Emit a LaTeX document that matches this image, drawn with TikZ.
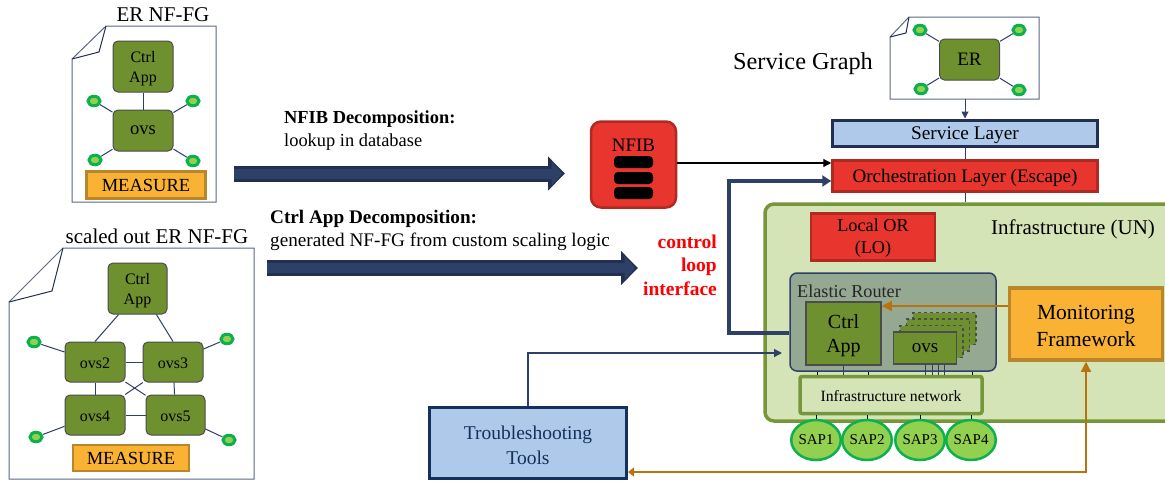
\documentclass[tikz,border=0pt]{standalone}
\usepackage{fontspec}
\setmainfont{Liberation Serif}
\usetikzlibrary{arrows.meta,shapes.geometric}

\definecolor{vnfgreen}{HTML}{6F902F}
\definecolor{navy}{HTML}{2F4068}
\definecolor{darknavy}{HTML}{222F50}
\definecolor{toolnavy}{HTML}{15305A}
\definecolor{lightblue}{HTML}{AFC9EA}
\definecolor{redfill}{HTML}{E8352D}
\definecolor{redline}{HTML}{AE2A22}
\definecolor{orangefill}{HTML}{F9B233}
\definecolor{orangeline}{HTML}{B8862B}
\definecolor{brownline}{HTML}{B8730F}
\definecolor{infragreen}{HTML}{D5E4B6}
\definecolor{infraline}{HTML}{76963A}
\definecolor{sapfill}{HTML}{92D050}
\definecolor{sapline}{HTML}{0CB04F}
\definecolor{docline}{HTML}{5C6785}
\definecolor{routerfill}{HTML}{94A892}

\newcommand{\sizedfont}[1]{\pgfmathsetmacro{\lineskp}{#1*1.22}\fontsize{#1}{\lineskp}\selectfont}

\tikzset{
	fsize/.style={font=\sizedfont{#1}},
	box/.style={inner sep=0pt, align=center},
	tagtext/.style={inner sep=0pt, align=center},
	vnf/.style={box, draw=black!70, fill=vnfgreen, line width=1pt, rounded corners=5pt, fsize=16},
	dot/.style={ellipse, draw=sapline, fill=sapfill, line width=3pt, minimum width=12pt, minimum height=9.5pt, inner sep=0pt},
	measure/.style={box, draw=orangeline, fill=orangefill, line width=2.5pt, fsize=18.5},
	doc/.style={draw=docline, fill=white, line width=1pt},
	fold/.style={draw=darknavy, line width=1pt},
	link/.style={draw=navy, line width=1pt},
	bigarrow/.style={draw=darknavy, line width=16pt, -{Triangle[length=17pt,width=33pt]}},
	biginner/.style={draw=navy, line width=10pt, shorten >=2.5pt, -{Triangle[length=11pt,width=23pt]}},
	redbox/.style={box, draw=redline, fill=redfill, line width=2.5pt},
	label/.style={inner sep=0pt, anchor=west},
	sap/.style={ellipse, draw=sapline, fill=sapfill, line width=2.5pt, minimum width=44pt, minimum height=40pt, inner sep=0pt, fsize=15},
	disk/.style={fill=black, rounded corners=4pt, minimum width=39pt, minimum height=12pt, inner sep=0pt}
}

\begin{document}
\begin{tikzpicture}[x=1pt,y=-1pt]
	\clip (0,0) rectangle (1165,483);

	\node[tagtext, fsize=21] (ertitle) at (163,15) {ER NF-FG};
	\draw[doc] (72,59) -- (106,26) -- (216,26) -- (216,202) -- (72,202) -- cycle;
	\draw[fold] (72,59) -- (99,52) -- (106,26);
	\node[vnf, minimum width=60pt, minimum height=51pt] (erctrl) at (143,66.5) {};
	\node[tagtext, font=\fontsize{16}{20}\selectfont] (erctrlname) at (143,68.5) {Ctrl\\App};
	\node[vnf, minimum width=60pt, minimum height=41pt, fsize=18.5] (erovs) at (143,130.5) {ovs};
	\node[dot] (erd1) at (94,101) {};
	\node[dot] (erd2) at (193,101) {};
	\node[dot] (erd3) at (95,160) {};
	\node[dot] (erd4) at (193,161) {};
	\node[measure, minimum width=119pt, minimum height=27pt] (ermeas) at (146,185) {MEASURE};
	\draw[link] (erctrl) -- (erovs);
	\foreach \dname in {erd1,erd2,erd3,erd4}
		\draw[link] (\dname) -- (erovs);

	\node[tagtext, fsize=21] (sctitle) at (157,236) {scaled out ER NF-FG};
	\draw[doc] (9,302) -- (63,248) -- (254,248) -- (254,479) -- (9,479) -- cycle;
	\draw[fold] (9,302) -- (52,291) -- (63,248);
	\node[vnf, minimum width=59pt, minimum height=51pt] (scctrl) at (137.5,288.5) {};
	\node[tagtext, font=\fontsize{16}{20}\selectfont] (scctrlname) at (137.5,290.5) {Ctrl\\App};
	\node[vnf, minimum width=60pt, minimum height=40pt] (ovs2) at (95,362) {};
	\node[vnf, minimum width=60pt, minimum height=40pt] (ovs3) at (173,362) {};
	\node[vnf, minimum width=60pt, minimum height=40pt] (ovs4) at (95,415) {};
	\node[vnf, minimum width=59pt, minimum height=40pt] (ovs5) at (175.5,415) {};
	\node[tagtext, fsize=16] at (95,363) {ovs2};
	\node[tagtext, fsize=16] at (173,363) {ovs3};
	\node[tagtext, fsize=16] at (95,416) {ovs4};
	\node[tagtext, fsize=16] at (175.5,416) {ovs5};
	\node[dot] (scd1) at (34,342) {};
	\node[dot] (scd2) at (227,339) {};
	\node[dot] (scd3) at (36,437) {};
	\node[dot] (scd4) at (229,440) {};
	\node[measure, minimum width=116pt, minimum height=26pt] (scmeas) at (131,458) {MEASURE};
	\draw[link] (scctrl.-126) -- (ovs2.north);
	\draw[link] (scctrl.-54) -- (ovs3.north);
	\draw[link] (ovs2) -- (ovs3);
	\draw[link] (ovs4) -- (ovs5);
	\draw[link] (ovs2) -- (ovs4);
	\draw[link] (ovs3) -- (ovs5);
	\draw[link] (ovs2) -- (ovs5);
	\draw[link] (ovs3) -- (ovs4);
	\draw[link] (scd1) -- (ovs2);
	\draw[link] (scd2) -- (ovs3);
	\draw[link] (scd3) -- (ovs4);
	\draw[link] (scd4) -- (ovs5);

	\coordinate (a1s) at (234,173.5);
	\coordinate (a1e) at (565,173.5);
	\coordinate (a2s) at (267,268);
	\coordinate (a2e) at (638,268);
	\draw[bigarrow] (a1s) -- (a1e);
	\draw[biginner] (a1s) -- (a1e);
	\draw[bigarrow] (a2s) -- (a2e);
	\draw[biginner] (a2s) -- (a2e);

	\node[label, fsize=18.4] (nfibhead) at (284,119.5) {\textbf{NFIB Decomposition:}};
	\node[label, fsize=18.4] (nfibtext) at (284,142.5) {lookup in database};
	\node[label, fsize=19.2] (ctrlhead) at (270,218.5) {\textbf{Ctrl App Decomposition:}};
	\node[label, fsize=19.2] (ctrltext) at (270,241.5) {generated NF-FG from custom scaling logic};

	\node[redbox, rounded corners=10pt, minimum width=85pt, minimum height=86pt] (nfib) at (633.5,164.5) {};
	\node[tagtext, fsize=19] (nfibname) at (633.5,145) {NFIB};
	\node[disk] (disk1) at (633.5,162) {};
	\node[disk] (disk2) at (633.5,178) {};
	\node[disk] (disk3) at (633.5,193) {};

	\node[tagtext, fsize=24.3] (sgname) at (803,63.5) {Service Graph};
	\draw[doc] (890,37) -- (909,17) -- (1039,17) -- (1039,99) -- (890,99) -- cycle;
	\draw[fold] (890,37) -- (906,33) -- (909,17);
	\node[vnf, minimum width=60pt, minimum height=41pt, fsize=19] (sger) at (969.5,59.5) {ER};
	\node[dot] (sgd1) at (920,30) {};
	\node[dot] (sgd2) at (1019,30) {};
	\node[dot] (sgd3) at (921,89) {};
	\node[dot] (sgd4) at (1019,90) {};
	\foreach \dname in {sgd1,sgd2,sgd3,sgd4}
		\draw[link] (\dname) -- (sger);
	\coordinate (sgout) at (965,99);

	\node[box, draw=darknavy, fill=lightblue, line width=3pt, minimum width=265pt, minimum height=26pt] (slayer) at (965,133) {};
	\node[tagtext, fsize=19.3] (slname) at (965,135) {Service Layer};
	\node[redbox, minimum width=265pt, minimum height=31pt] (orch) at (965,176) {};
	\node[tagtext, fsize=19.1] (orname) at (965,178) {Orchestration Layer (Escape)};
	\draw[link, -{Triangle[length=7pt,width=7pt]}] (sgout) -- (sgout |- slayer.north);
	\draw[link] (slayer) -- (orch);

	\node[box, draw=infraline, fill=infragreen, line width=3.5pt, rounded corners=9pt, minimum width=420pt, minimum height=217pt] (infra) at (975,312.5) {};
	\draw[link] (orch.south) -- (orch.south |- infra.north);
	\node[tagtext, fsize=21] (infraname) at (1073,229) {Infrastructure (UN)};
	\node[redbox, minimum width=124pt, minimum height=47pt] (localor) at (873,237) {};
	\node[tagtext, fsize=18.2] (localorname) at (873,238.5) {Local OR\\(LO)};

	\node[box, draw=navy, fill=routerfill, line width=1.5pt, rounded corners=7pt, minimum width=206pt, minimum height=98pt] (er) at (893,322) {};
	\node[tagtext, anchor=west, fsize=18.2, text=black!85] (ername) at (797,291) {Elastic Router};
	\node[box, draw=black!70, fill=vnfgreen, line width=1.5pt, minimum width=75pt, minimum height=63pt] (ectrl) at (843.5,333.5) {};
	\node[tagtext, fsize=20] (ectrlname) at (843.5,335.5) {Ctrl\\App};
	\foreach \off/\nname in {19.5/ovsc,13/ovsb,6.5/ovsa}
		\node[box, draw=black!70, dashed, fill=vnfgreen, line width=1.2pt, minimum width=63pt, minimum height=32pt] (\nname) at (925+\off,348-\off) {};
	\node[box, draw=black!70, fill=vnfgreen, line width=1.5pt, minimum width=63pt, minimum height=32pt, fsize=19] (eovs) at (925,348) {ovs};

	\node[box, draw=infraline, fill=infragreen, line width=3.5pt, rounded corners=2pt, minimum width=182pt, minimum height=37pt] (inet) at (891,395) {};
	\node[tagtext, fsize=15.7] (inetname) at (891,396.5) {Infrastructure network};
	\foreach \xpos in {817,868,972}
		\draw[black, line width=0.8pt] (\xpos,0 |- er.south) -- (\xpos,0 |- inet.north);
	\draw[link] (843,0 |- ectrl.south) -- (843,0 |- inet.north);
	\foreach \xpos in {925,932,938,944}
		\draw[link] (\xpos,0 |- eovs.south) -- (\xpos,0 |- inet.north);

	\node[sap] (sap1) at (816,440) {SAP1};
	\node[sap] (sap2) at (867,440) {SAP2};
	\node[sap] (sap3) at (920,440) {SAP3};
	\node[sap] (sap4) at (971,440) {SAP4};
	\foreach \sname in {sap1,sap2,sap3,sap4}
		\draw[black, line width=0.8pt] (\sname.north) -- (\sname.north |- inet.south);

	\node[box, draw=orangeline, fill=orangefill, line width=3.5pt, minimum width=153pt, minimum height=72pt] (mon) at (1086,324) {};
	\node[tagtext, fsize=21.5] (monname) at (1086,326) {Monitoring\\Framework};
	\node[box, draw=toolnavy, fill=lightblue, line width=3pt, minimum width=197pt, minimum height=71pt] (tools) at (528,443) {};
	\node[tagtext, fsize=19.5, text=toolnavy] (toolname) at (528,445) {Troubleshooting\\[1pt]Tools};

	\node[tagtext, anchor=east, align=right, text=red, font=\bfseries\fontsize{19.5}{23.5}\selectfont] (loopname) at (717,265) {control\\loop\\interface};

	\draw[black, line width=1.3pt, -{Triangle[length=8pt,width=8pt]}] (nfib.east |- 0,163) -- (orch.west |- 0,163);
	\draw[navy, line width=3.5pt, -{Triangle[length=9pt,width=11pt]}] (er.west |- 0,333) -- (729,333) -- (729,181) -- (orch.west |- 0,181);
	\coordinate (ertip) at (782,353);
	\draw[navy, line width=1.2pt, -{Triangle[length=8pt,width=8pt]}] (tools.north) |- (ertip);
	\draw[brownline, line width=1.2pt, -{Triangle[length=10pt,width=10pt]}] (mon.west |- 0,306) -- (ectrl.east |- 0,306);
	\draw[brownline, line width=1.2pt, {Triangle[length=6pt,width=9pt]}-{Triangle[length=10pt,width=10pt]}] (tools.east |- 0,472) -| (mon.south);
\end{tikzpicture}
\end{document}
